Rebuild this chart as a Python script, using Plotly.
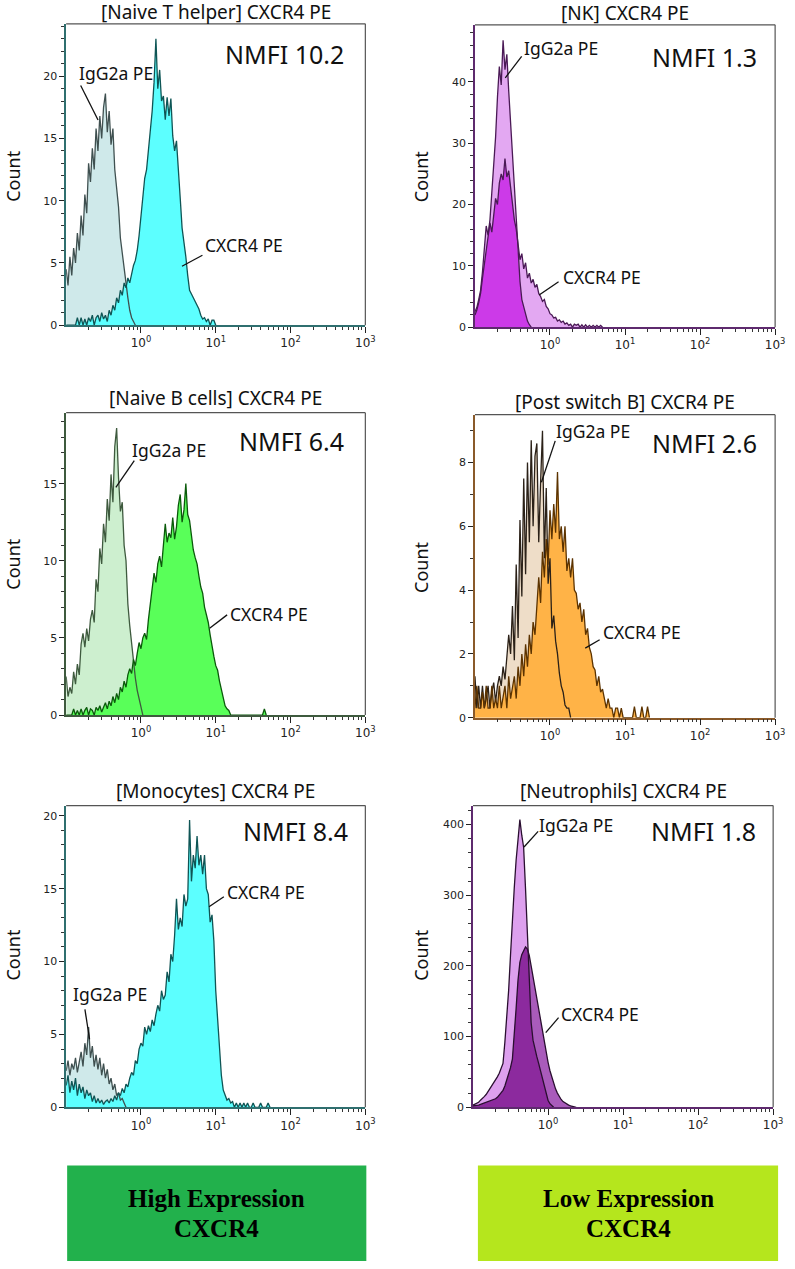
import numpy as np
import plotly.graph_objects as go

W, H = 795, 1269

# histogram bin centres, in decades (log10 of the PE intensity)
BIN_LOG10 = [round(-1.0 + 0.025 * i, 3) for i in range(111)]

X_TICK_VALUES = [1, 10, 100, 1000]
X_TICK_TEXT = ["10<sup>0</sup>", "10<sup>1</sup>", "10<sup>2</sup>", "10<sup>3</sup>"]
X_MINOR_VALUES = [k * 10.0 ** n for n in (-1, 0, 1, 2) for k in range(2, 10)]

PANEL_TITLES = ["[Naive T helper] CXCR4 PE", "[NK] CXCR4 PE",
                "[Naive B cells] CXCR4 PE", "[Post switch B] CXCR4 PE",
                "[Monocytes] CXCR4 PE", "[Neutrophils] CXCR4 PE"]
NMFI_VALUES = ["10.2", "1.3", "6.4", "2.6", "8.4", "1.8"]
Y_MAX = [24.2, 49.3, 19.6, 9.5, 20.7, 427]
Y_MAJOR = [[0, 5, 10, 15, 20], [0, 10, 20, 30, 40], [0, 5, 10, 15],
           [0, 2, 4, 6, 8], [0, 5, 10, 15, 20], [0, 100, 200, 300, 400]]
Y_MINOR_STEP = [1, 2, 1, 1, 1, 20]

# ---- counts per bin (start at BIN_LOG10[0]) ----
NAIVE_T_ISO = [4.5, 3.2, 5.5, 4.0, 6.2, 5.0, 7.4, 6.0, 8.8, 7.2, 10.5, 9.0, 13.0, 11.5, 14.2, 12.5,
               15.8, 14.0, 16.8, 15.0, 17.5, 18.6, 15.5, 17.2, 14.5, 15.8, 12.5, 11.0, 9.5, 7.0, 5.8,
               4.2, 3.0, 2.2, 1.2, 0.6, 0.3, 0]
NAIVE_T_CXCR4 = [0, 0, 0, 0, 0, 0, 0.6, 0, 0.6, 0, 0.5, 0, 0.6, 0.3, 0.8, 0, 0.6, 0.8, 0.3, 1.0,
                 0.5, 0.8, 0.3, 1.2, 0.8, 1.6, 1.2, 2.2, 1.8, 2.8, 2.4, 3.4, 3.0, 3.8, 3.4, 4.2,
                 4.8, 5.2, 6.0, 7.2, 8.8, 10.5, 11.8, 12.5, 14.0, 15.8, 17.2, 19.5, 23.0, 19.0,
                 20.5, 18.0, 18.4, 16.5, 18.3, 16.8, 18.2, 15.2, 14.0, 14.8, 12.0, 10.2, 7.8, 6.8,
                 5.5, 4.0, 2.8, 2.5, 2.2, 1.8, 1.6, 1.3, 0.8, 0.5, 0.6, 0.3, 0.5, 0, 0.4, 0.4, 0]

NK_ISO = [2.5, 3.2, 4.5, 6.0, 9.0, 12.5, 16.5, 15.0, 17.5, 22.0, 26.5, 31.0, 37.5, 42.5, 39.5,
          46.8, 42.0, 44.5, 38.5, 33.0, 28.5, 22.5, 17.0, 11.5, 7.5, 4.5, 3.2, 1.8, 1.0, 0.4, 0]
NK_CXCR4 = [2.0, 2.8, 4.0, 5.5, 8.0, 10.5, 13.0, 15.5, 17.0, 15.5, 18.5, 21.0, 20.0, 23.5, 25.0,
            24.0, 27.5, 24.5, 25.5, 22.5, 20.0, 17.5, 16.0, 13.5, 11.0, 12.0, 9.5, 10.5, 8.0, 8.8,
            7.2, 7.8, 6.5, 7.0, 5.5, 5.0, 4.2, 4.5, 3.4, 3.0, 2.2, 2.0, 1.5, 1.6, 1.0, 1.2, 0.8,
            1.0, 0.5, 0.7, 0.3, 0.5, 0, 0.5, 0.3, 0.5, 0, 0.4, 0, 0.4, 0, 0.3, 0, 0.3, 0, 0.3, 0,
            0.3, 0]

NAIVE_B_ISO = [2.5, 1.2, 1.8, 1.4, 2.8, 2.0, 3.3, 2.6, 4.6, 5.3, 4.4, 5.6, 4.8, 6.2, 6.8, 6.0, 8.8,
               8.0, 10.8, 9.8, 12.4, 11.2, 14.0, 12.6, 15.6, 13.8, 17.4, 18.6, 15.4, 13.2, 13.8,
               11.0, 10.0, 7.2, 5.8, 4.6, 3.4, 2.4, 1.6, 1.0, 0.4, 0]
NAIVE_B_CXCR4 = [0, 0, 0, 0, 0.4, 0, 0.3, 0, 0.4, 0, 0.3, 0.5, 0, 0.4, 0.3, 0, 0.5, 0.3, 0.6, 0.2,
                 0.5, 0.8, 0.4, 0.9, 0.6, 1.2, 0.8, 1.4, 1.0, 1.8, 1.5, 2.2, 1.8, 2.6, 3.0, 2.7,
                 3.6, 3.2, 4.0, 4.7, 4.3, 5.0, 5.3, 4.9, 6.2, 7.2, 7.8, 9.2, 8.6, 9.8, 10.3, 9.6,
                 11.0, 12.4, 11.2, 11.8, 11.5, 12.8, 11.4, 12.2, 13.6, 14.3, 12.5, 13.3, 15.0,
                 13.0, 12.6, 11.5, 10.7, 10.2, 9.8, 9.0, 8.3, 7.9, 7.0, 6.5, 6.0, 5.2, 4.4, 3.8,
                 3.2, 2.9, 2.2, 1.6, 1.0, 0.6, 0.4, 0.3, 0, 0, 0, 0, 0, 0, 0, 0, 0, 0, 0, 0, 0, 0,
                 0, 0, 0, 0, 0.4, 0]

POST_B_ISO = [1.3, 0.3, 1.0, 0.3, 1.0, 0.3, 0.6, 1.0, 0.3, 0.8, 1.1, 0.5, 1.0, 1.3, 1.0, 1.6, 1.2,
              2.0, 2.6, 2.0, 3.5, 1.8, 4.8, 2.5, 6.2, 3.8, 7.5, 4.5, 8.0, 5.5, 8.7, 6.0, 8.2, 8.6,
              5.5, 7.4, 9.0, 5.0, 7.2, 4.2, 5.0, 2.8, 3.2, 2.4, 2.0, 1.4, 1.0, 0.8, 0.4, 0.3, 0.3, 0]
POST_B_CXCR4 = [0.3, 1.0, 0.3, 0.3, 0.8, 0.3, 1.0, 0.3, 0.3, 1.0, 0.3, 0.6, 0.3, 1.0, 0.3, 0.7,
                1.0, 0.3, 1.3, 0.6, 1.0, 1.3, 0.6, 1.6, 1.0, 2.0, 1.3, 2.3, 1.6, 2.6, 2.0, 3.0,
                2.6, 3.6, 4.4, 3.6, 5.2, 4.4, 5.6, 4.8, 6.5, 5.6, 6.7, 5.8, 7.7, 5.6, 6.0, 5.2,
                6.0, 4.6, 5.0, 4.4, 5.0, 4.0, 3.9, 3.4, 3.6, 3.0, 3.4, 2.6, 2.8, 2.2, 2.0, 1.6,
                1.5, 1.0, 1.3, 0.8, 0.9, 0.6, 0.3, 0.6, 0.3, 0.3, 0, 0.3, 0.3, 0, 0.3, 0, 0, 0, 0,
                0, 0, 0.35, 0, 0, 0, 0.35, 0, 0, 0.35, 0]

MONO_ISO = [2.5, 3.2, 2.2, 3.0, 2.6, 3.4, 2.4, 3.0, 3.8, 2.8, 4.4, 3.6, 5.5, 3.4, 4.2, 2.8, 3.6,
            2.6, 3.4, 2.2, 3.0, 2.0, 2.6, 1.6, 2.0, 1.2, 1.6, 0.8, 1.0, 0.5, 0.6, 0.3, 0]
MONO_CXCR4 = [1.5, 2.2, 1.0, 1.8, 1.2, 2.0, 0.8, 1.6, 1.0, 1.4, 0.6, 1.2, 0.8, 1.0, 0.4, 0.8, 0.3,
              0.6, 0.3, 0.5, 0.2, 0.4, 0.5, 0.3, 0.6, 0.4, 0.8, 0.5, 1.0, 0.8, 1.3, 1.0, 1.6, 1.4,
              2.0, 2.4, 2.2, 3.2, 3.0, 4.0, 4.4, 4.2, 5.5, 5.0, 5.6, 5.2, 6.0, 5.6, 6.4, 7.0, 6.6,
              8.0, 7.4, 7.7, 9.3, 8.6, 10.5, 10.0, 11.8, 14.3, 12.2, 13.0, 12.4, 14.6, 13.8, 14.3,
              19.7, 15.5, 17.3, 16.4, 18.6, 16.6, 17.3, 16.0, 17.3, 15.0, 14.6, 12.7, 13.2, 11.4,
              8.0, 5.9, 3.6, 2.2, 1.2, 0.8, 0.5, 0.6, 0.3, 0.4, 0, 0.3, 0, 0.3, 0, 0.3, 0, 0.3, 0,
              0, 0.3, 0, 0, 0, 0.3, 0, 0, 0, 0.3, 0]

NEUT_ISO = [3, 4, 6, 7, 10, 12, 15, 18, 22, 26, 30, 34, 38, 43, 48, 54, 62, 92, 125, 165, 215, 270,
            310, 350, 385, 407, 385, 368, 310, 245, 185, 120, 95, 82, 72, 62, 52, 40, 28, 18, 10,
            5, 2, 0]
NEUT_CXCR4 = [2, 2, 3, 3, 4, 5, 5, 6, 7, 8, 9, 10, 12, 14, 17, 20, 24, 30, 38, 46, 56, 68, 100,
              140, 180, 205, 216, 222, 227, 224, 215, 200, 185, 168, 150, 135, 122, 108, 92, 78,
              64, 52, 42, 33, 26, 20, 15, 11, 8, 6, 4, 3, 2, 1, 0.5, 0]

ISO_SERIES = [NAIVE_T_ISO, NK_ISO, NAIVE_B_ISO, POST_B_ISO, MONO_ISO, NEUT_ISO]
CXCR4_SERIES = [NAIVE_T_CXCR4, NK_CXCR4, NAIVE_B_CXCR4, POST_B_CXCR4, MONO_CXCR4, NEUT_CXCR4]

# ---- styling ----
STYLES = [
    dict(iso_fill="#CFE9EA", iso_line="#3F5050", cx_fill="#5CFFFF", cx_line="#0F5555",
         ov_fill=None, accent="#2F6F6F"),
    dict(iso_fill="#E3A8F2", iso_line="#4A1A55", cx_fill="#E3A8F2", cx_line="#4A1A55",
         ov_fill="#CC3AE8", accent="#5E2A6E"),
    dict(iso_fill="#CDEFCF", iso_line="#3E5A3E", cx_fill="#59FF59", cx_line="#0B5A0B",
         ov_fill=None, accent="#3E5A3E"),
    dict(iso_fill="#EEDDC8", iso_line="#2B2118", cx_fill="#FFB347", cx_line="#5C3300",
         ov_fill=None, accent="#8A5A2A"),
    dict(iso_fill="#CFE9EA", iso_line="#3F5050", cx_fill="#5CFFFF", cx_line="#0F5555",
         ov_fill=None, accent="#2F6F6F"),
    dict(iso_fill="#DDA0EE", iso_line="#2A0F30", cx_fill="#A95BBB", cx_line="#2A0F30",
         ov_fill="#8C2A9E", accent="#5E2A6E"),
]

# plot boxes in pixels: left, right, top, bottom
BOXES = [(67, 370, 24, 327), (481, 785, 25, 329), (67, 370, 415, 719),
         (481, 785, 417, 721.7), (67, 370, 810, 1113.5), (479, 783, 810, 1113.4)]

# label placements (pixels)
LABELS = [
    dict(ig=(117, 73), ig_ln=((81.7, 86), (99.3, 120.7)), cx=(247, 246),
         cx_ln=((205, 256.7), (184.3, 267.7)), nm=(350, 54), title_y=12, count=(13, 177)),
    dict(ig=(568, 48), ig_ln=((528.3, 56.7), (511.7, 78.3)), cx=(610, 279),
         cx_ln=((565.7, 283.3), (546, 296.7)), nm=(769, 57), title_y=12.7, count=(426.5, 177)),
    dict(ig=(171, 452), ig_ln=((136, 463.3), (117.3, 490)), cx=(272, 617),
         cx_ln=((230, 618.3), (212.3, 631.7)), nm=(350, 443), title_y=400, count=(13, 567)),
    dict(ig=(601, 433), ig_ln=((562.3, 443.3), (548.3, 485)), cx=(650, 636),
         cx_ln=((607.3, 643.3), (592.7, 651.7)), nm=(769, 445), title_y=404, count=(426.5, 570)),
    dict(ig=(111, 1000), ig_ln=((86, 1015), (90.7, 1045)), cx=(269, 897),
         cx_ln=((226.7, 901.7), (211.7, 911.7)), nm=(354, 836), title_y=795, count=(13, 960)),
    dict(ig=(583, 830), ig_ln=((545, 836), (530.7, 851.7)), cx=(607.5, 1020),
         cx_ln=((565.7, 1023.3), (552.7, 1038.3)), nm=(768, 836), title_y=795, count=(426.5, 960)),
]

SANS = "Noto Sans"
TICK_FONT = "DejaVu Sans"


def px(x):
    return x / W


def py(y):
    return 1 - y / H


fig = go.Figure()
shapes = []
annotations = []
layout_axes = {}


def xs_for(vals):
    return [10 ** v for v in BIN_LOG10[:len(vals)]]


for k in range(6):
    n = k + 1
    suffix = "" if n == 1 else str(n)
    xa, ya = "x" + suffix, "y" + suffix
    st = STYLES[k]
    iso = ISO_SERIES[k]
    cx = CXCR4_SERIES[k]

    common = dict(xaxis=xa, yaxis=ya, mode="lines", showlegend=False, hoverinfo="skip")
    fig.add_trace(go.Scatter(x=xs_for(iso), y=iso, fill="tozeroy", fillcolor=st["iso_fill"],
                             line=dict(width=0), **common))
    fig.add_trace(go.Scatter(x=xs_for(cx), y=cx, fill="tozeroy", fillcolor=st["cx_fill"],
                             line=dict(width=0), **common))
    if st["ov_fill"]:
        m = max(len(iso), len(cx))
        a = np.array(iso + [0] * (m - len(iso)), dtype=float)
        b = np.array(cx + [0] * (m - len(cx)), dtype=float)
        ov = np.minimum(a, b)
        fig.add_trace(go.Scatter(x=[10 ** v for v in BIN_LOG10[:m]], y=ov, fill="tozeroy",
                                 fillcolor=st["ov_fill"], line=dict(width=0), **common))
    fig.add_trace(go.Scatter(x=xs_for(iso), y=iso, line=dict(color=st["iso_line"], width=1.3),
                             **common))
    fig.add_trace(go.Scatter(x=xs_for(cx), y=cx, line=dict(color=st["cx_line"], width=1.3),
                             **common))

    l, r, t, b_ = BOXES[k]
    layout_axes["xaxis" + suffix] = dict(
        type="log", range=[-1, 3], domain=[px(l), px(r)], anchor=ya,
        tickmode="array", tickvals=X_TICK_VALUES, ticktext=X_TICK_TEXT,
        ticks="outside", ticklen=6, tickwidth=1, tickcolor="#222",
        minor=dict(tickmode="array", tickvals=X_MINOR_VALUES, ticks="outside", ticklen=3,
                   tickwidth=1, tickcolor="#333"),
        showline=True, linecolor=st["accent"], linewidth=1.5, showgrid=False, zeroline=False,
        tickfont=dict(family=TICK_FONT, size=12, color="#222"), fixedrange=True)
    layout_axes["yaxis" + suffix] = dict(
        range=[0, Y_MAX[k]], domain=[py(b_), py(t)], anchor=xa,
        tickmode="array", tickvals=Y_MAJOR[k], ticks="outside", ticklen=5, tickwidth=1,
        tickcolor="#222",
        minor=dict(dtick=Y_MINOR_STEP[k], tick0=0, ticks="outside", ticklen=3, tickwidth=1,
                   tickcolor="#333"),
        showline=True, linecolor=st["accent"], linewidth=1.5, showgrid=False, zeroline=False,
        tickfont=dict(family=TICK_FONT, size=11, color="#222"), fixedrange=True)

    # top and right frame lines
    shapes.append(dict(type="line", xref=xa + " domain", yref=ya + " domain", x0=0, x1=1,
                       y0=1, y1=1, line=dict(color="#555555", width=1.2)))
    shapes.append(dict(type="line", xref=xa + " domain", yref=ya + " domain", x0=1, x1=1,
                       y0=0, y1=1, line=dict(color="#555555", width=1.2)))

    lb = LABELS[k]
    annotations.append(dict(text=PANEL_TITLES[k], x=px((l + r) / 2), y=py(lb["title_y"]),
                            xref="paper", yref="paper", showarrow=False, xanchor="center",
                            yanchor="middle", font=dict(family=SANS, size=19, color="#111")))
    annotations.append(dict(text="NMFI " + NMFI_VALUES[k], x=px(lb["nm"][0]), y=py(lb["nm"][1]),
                            xref="paper", yref="paper", showarrow=False, xanchor="right",
                            yanchor="middle", font=dict(family=SANS, size=25, color="#111")))
    annotations.append(dict(text="IgG2a PE", x=px(lb["ig"][0]), y=py(lb["ig"][1]),
                            xref="paper", yref="paper", showarrow=False, xanchor="center",
                            yanchor="middle", font=dict(family=SANS, size=17.5, color="#111")))
    annotations.append(dict(text="CXCR4 PE", x=px(lb["cx"][0]), y=py(lb["cx"][1]),
                            xref="paper", yref="paper", showarrow=False, xanchor="center",
                            yanchor="middle", font=dict(family=SANS, size=17.5, color="#111")))
    annotations.append(dict(text="Count", x=px(lb["count"][0]), y=py(lb["count"][1]),
                            xref="paper", yref="paper", showarrow=False, textangle=-90,
                            xanchor="center", yanchor="middle",
                            font=dict(family=SANS, size=18, color="#111")))
    for (p0, p1) in (lb["ig_ln"], lb["cx_ln"]):
        shapes.append(dict(type="line", xref="paper", yref="paper", x0=px(p0[0]), y0=py(p0[1]),
                           x1=px(p1[0]), y1=py(p1[1]), line=dict(color="#111", width=1.3)))

# bottom category boxes
CATEGORY_LABELS = [("High Expression", "CXCR4"), ("Low Expression", "CXCR4")]
CATEGORY_COLORS = ["#22B14C", "#B5E61D"]
CATEGORY_BOXES = [(68, 371, 1172, 1268), (484, 788, 1172, 1268)]
for (l1, l2), colr, (l, r, t, b_) in zip(CATEGORY_LABELS, CATEGORY_COLORS, CATEGORY_BOXES):
    shapes.append(dict(type="rect", xref="paper", yref="paper", x0=px(l), x1=px(r), y0=py(b_),
                       y1=py(t), fillcolor=colr, line=dict(width=0), layer="below"))
    cxp = (l + r) / 2
    annotations.append(dict(text=f"<b>{l1}</b>", x=px(cxp), y=py(1205), xref="paper",
                            yref="paper", showarrow=False, xanchor="center", yanchor="middle",
                            font=dict(family="Liberation Serif", size=25, color="#000")))
    annotations.append(dict(text=f"<b>{l2}</b>", x=px(cxp), y=py(1235), xref="paper",
                            yref="paper", showarrow=False, xanchor="center", yanchor="middle",
                            font=dict(family="Liberation Serif", size=25, color="#000")))

fig.update_layout(width=W, height=H, margin=dict(l=0, r=0, t=0, b=0), paper_bgcolor="white",
                  plot_bgcolor="white", showlegend=False, shapes=shapes, annotations=annotations,
                  **layout_axes)

fig.write_html("out.html")
